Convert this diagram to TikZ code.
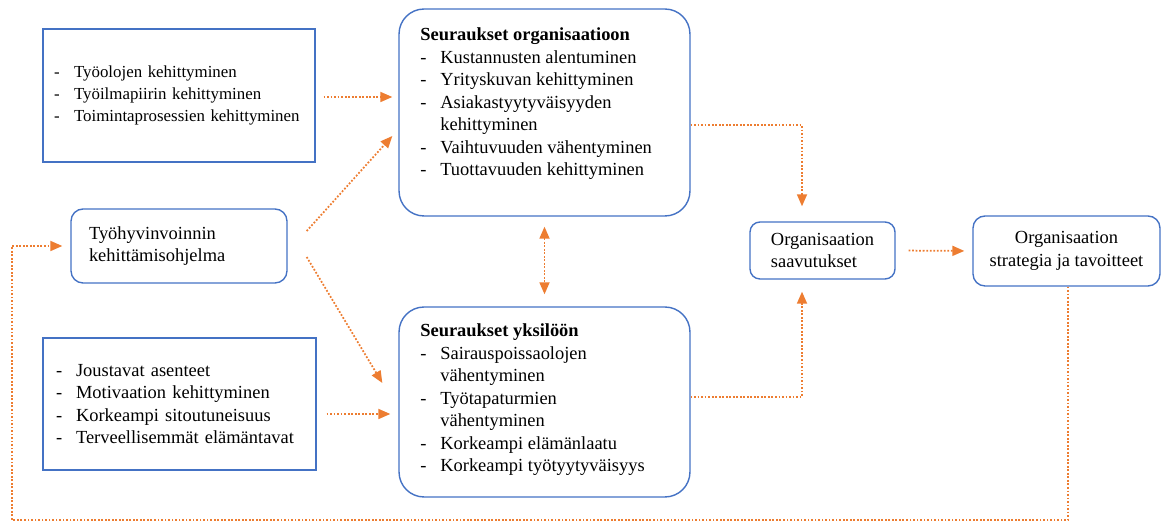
\documentclass[tikz,border=0pt]{standalone}
\usepackage{fontspec}
\setmainfont{Liberation Serif}
\usepackage{tikz}
\usetikzlibrary{arrows.meta,positioning,calc}
\definecolor{boxblue}{HTML}{4472C4}
\definecolor{floworange}{HTML}{ED7D31}
\newcommand{\dashitem}{\makebox[0.4cm][l]{-}}
\newcommand{\contitem}{\hspace*{0.4cm}}

\begin{document}
\begin{tikzpicture}[x=0.02cm,y=-0.02cm,every node/.style={font=\fontsize{10.5}{12.8}\selectfont,inner sep=0pt},sqbox/.style={draw=boxblue,line width=0.8pt,align=left},rbox/.style={draw=boxblue,line width=0.8pt,rounded corners=0.24cm},bigbox/.style={draw=boxblue,line width=0.8pt,rounded corners=0.5cm,minimum width=5.82cm},flow/.style={draw=floworange,line width=1pt,dash pattern=on 1pt off 1pt,-{Triangle[length=2.4mm,width=2mm]}}]
\useasboundingbox (0,0) rectangle (1161,523);
% left column
\node[sqbox,minimum width=5.44cm,minimum height=2.66cm,text width=5.0cm,font=\fontsize{9.6}{12.4}\selectfont] (work) at (179,95.5) {\dashitem Työolojen kehittyminen\\ \dashitem Työilmapiirin kehittyminen\\ \dashitem Toimintaprosessien kehittyminen};
\node[rbox,minimum width=4.32cm,minimum height=1.48cm,text width=3.6cm,align=left] (prog) at (179,246) {Työhyvinvoinnin\\ kehittämisohjelma};
\node[sqbox,minimum width=5.46cm,minimum height=2.64cm,text width=4.94cm] (staff) at (179.5,404) {\dashitem Joustavat asenteet\\ \dashitem Motivaation kehittyminen\\ \dashitem Korkeampi sitoutuneisuus\\ \dashitem Terveellisemmät elämäntavat};
% consequences
\node[bigbox,minimum height=4.14cm] (org) at (544.5,112.5) {};
\node[align=left,anchor=west] (orgtext) at (420,104) {\textbf{Seuraukset organisaatioon}\\ \dashitem Kustannusten alentuminen\\ \dashitem Yrityskuvan kehittyminen\\ \dashitem Asiakastyytyväisyyden\\ \contitem kehittyminen\\ \dashitem Vaihtuvuuden vähentyminen\\ \dashitem Tuottavuuden kehittyminen};
\node[bigbox,minimum height=3.8cm] (ind) at (544.5,402) {};
\node[align=left,anchor=west] (indtext) at (420,400) {\textbf{Seuraukset yksilöön}\\ \dashitem Sairauspoissaolojen\\ \contitem vähentyminen\\ \dashitem Työtapaturmien\\ \contitem vähentyminen\\ \dashitem Korkeampi elämänlaatu\\ \dashitem Korkeampi työtyytyväisyys};
% right column
\node[rbox,rounded corners=0.2cm,minimum width=2.9cm,minimum height=1.14cm,align=left] (ach) at (822.5,250.5) {Organisaation\\ saavutukset};
\node[rbox,minimum width=3.74cm,minimum height=1.4cm,align=center] (strat) at (1066.5,251) {Organisaation\\ strategia ja tavoitteet};
\coordinate (workout) at ([yshift=-0.03cm]work.east);
\coordinate (staffout) at ([yshift=-0.2cm]staff.east);
\coordinate (stratout) at ([xshift=0.03cm]strat.south);
\coordinate (loopL) at (12,520);
% arrows
\draw[flow,shorten <=0.16cm,shorten >=0.12cm] (workout) -- (workout -| org.west);
\draw[flow] ([xshift=0.38cm,yshift=0.3cm]prog.east) -- ([xshift=-0.12cm,yshift=-0.47cm]org.west);
\draw[flow] ([xshift=0.38cm,yshift=-0.22cm]prog.east) -- ([xshift=-0.32cm,yshift=0.38cm]ind.west);
\draw[flow,shorten <=0.2cm,shorten >=0.16cm] (staffout) -- (staffout -| ind.west);
\draw[flow,{Triangle[length=2.4mm,width=2mm]}-{Triangle[length=2.4mm,width=2mm]},shorten <=0.2cm,shorten >=0.24cm] (org.south) -- (ind.north);
\draw[flow] ([yshift=-0.25cm]org.east) -| ([xshift=-0.41cm,yshift=0.3cm]ach.north);
\draw[flow] ([yshift=0.1cm]ind.east) -| ([xshift=-0.41cm,yshift=-0.24cm]ach.south);
\draw[flow,shorten <=0.26cm,shorten >=0.16cm] (ach.east) -- (strat.west);
\draw[flow,shorten >=0.16cm] (stratout) |- (loopL) |- (prog.west);
\end{tikzpicture}
\end{document}
